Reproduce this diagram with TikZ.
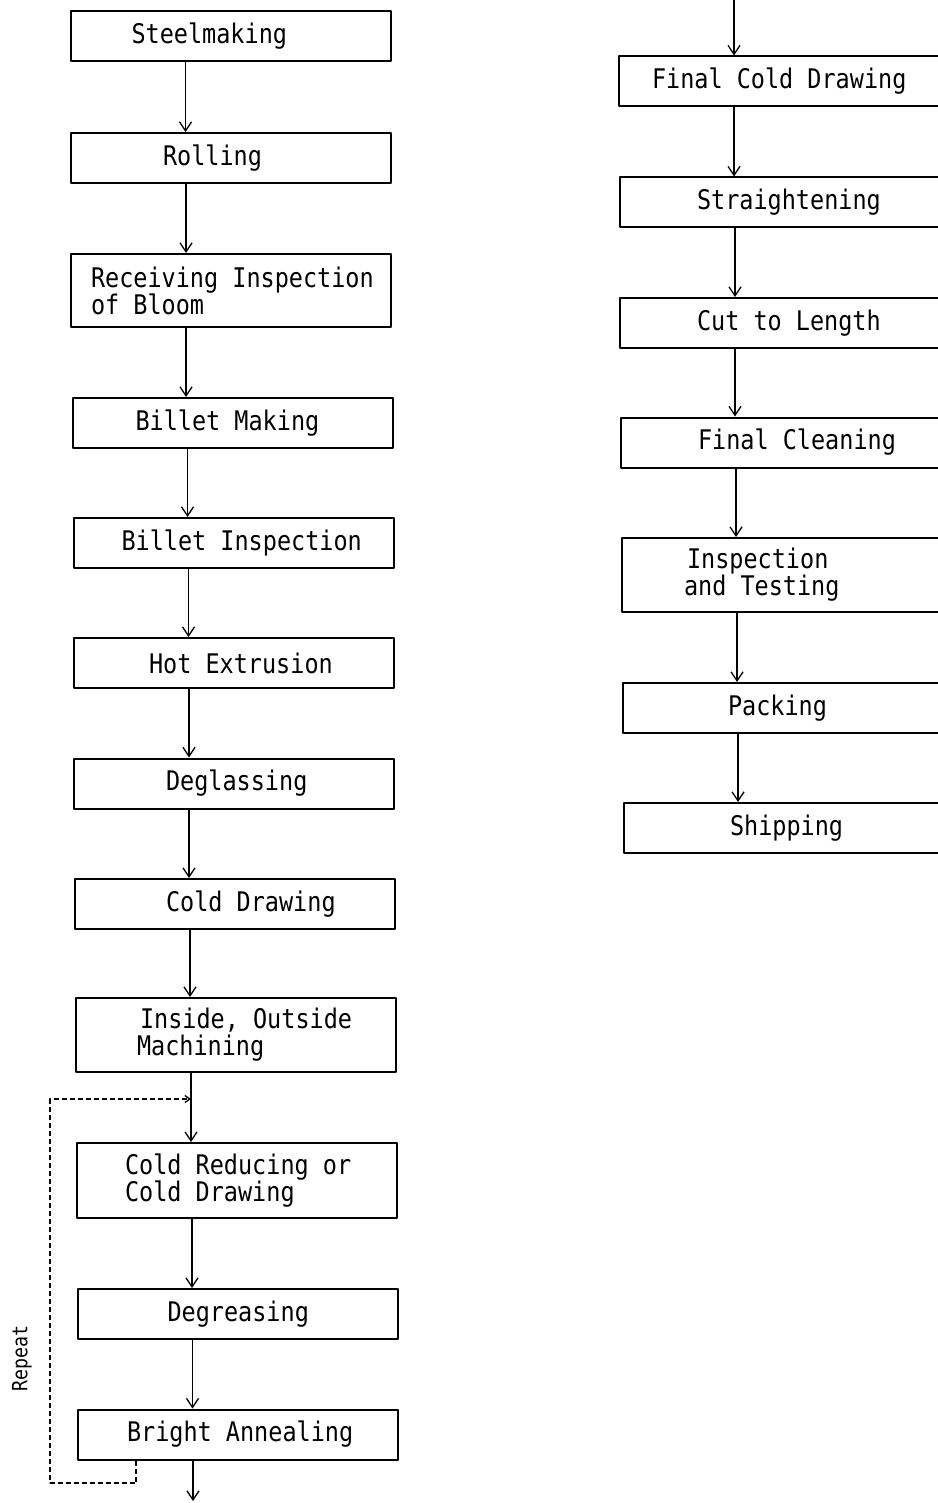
\documentclass[tikz,border=0pt]{standalone}
\usepackage{fontspec}
\newfontfamily\flowfont[FakeStretch=0.87]{DejaVu Sans Mono}
\usetikzlibrary{arrows.meta}
\begin{document}
\begin{tikzpicture}[x=1pt,y=-1pt,line join=round,
  stage/.style={draw,line width=2pt,minimum width=320pt,minimum height=50pt,inner xsep=0pt,
    text width=320pt,align=left,font=\flowfont\fontsize{27}{27}\selectfont,
    execute at begin node={\spaceskip=14.1pt\xspaceskip=14.1pt\relax}},
  flow/.style={line width=1.3pt,-{Straight Barb[length=9pt,width=12pt]}},
  again/.style={line width=1.3pt,dash pattern=on 5pt off 3pt,-{Straight Barb[length=5pt,width=7pt]}}]
\useasboundingbox (0,0) rectangle (937,1503);
% left column
\node[stage] (steel) at (230.5,36.5) {\hspace*{61pt}Steelmaking};
\node[stage] (roll) at (231,158) {\hspace*{92pt}Rolling};
\node[stage,minimum height=73pt] (recv) at (231,290.5) {\hspace*{20pt}Receiving Inspection\\\hspace*{20pt}of Bloom};
\node[stage] (bmake) at (232.5,423) {\hspace*{63pt}Billet Making};
\node[stage] (binsp) at (233.5,543) {\hspace*{48pt}Billet Inspection};
\node[stage] (hot) at (234,663) {\hspace*{75pt}Hot Extrusion};
\node[stage] (degl) at (234,783.5) {\hspace*{92pt}Deglassing};
\node[stage] (cold) at (235,904) {\hspace*{91pt}Cold Drawing};
\node[stage,minimum height=74pt] (mach) at (236,1035) {\hspace*{64pt}Inside, Outside\\\hspace*{61pt}Machining};
\node[stage,minimum height=75pt] (reduce) at (237,1180.5) {\hspace*{48pt}Cold Reducing or\\\hspace*{48pt}Cold Drawing};
\node[stage] (degr) at (237.5,1314) {\hspace*{90pt}Degreasing};
\node[stage] (bright) at (238,1434.5) {\hspace*{49pt}Bright Annealing};
% right column
\node[stage] (fcd) at (779,81.5) {\hspace*{33pt}Final Cold Drawing};
\node[stage] (str) at (780,202.5) {\hspace*{77pt}Straightening};
\node[stage] (cut) at (780,323) {\hspace*{77pt}Cut to Length};
\node[stage] (fclean) at (781,442.5) {\hspace*{77pt}Final Cleaning};
\node[stage,minimum height=74pt] (insp) at (782,575) {\hspace*{65pt}Inspection\\\hspace*{62pt}and Testing};
\node[stage] (pack) at (783,708) {\hspace*{105pt}Packing};
\node[stage] (ship) at (784,828) {\hspace*{106pt}Shipping};
% connectors
\foreach \a/\b in {steel/roll,roll/recv,recv/bmake,bmake/binsp,binsp/hot,hot/degl,degl/cold,cold/mach,
  mach/reduce,reduce/degr,degr/bright,fcd/str,str/cut,cut/fclean,fclean/insp,insp/pack,pack/ship}
  \draw[flow] ([xshift=-45pt]\a.south) -- ([xshift=-45pt]\a.south |- \b.north);
\coordinate (in) at (734,0);
\coordinate (out) at (193,1501);
\draw[flow] (in) -- (in |- fcd.north);
\draw[flow] ([xshift=-45pt]bright.south) -- (out);
% repeat loop
\draw[again] ([xshift=59pt]bright.south west) |- (50,1483) |- ([xshift=-45pt,yshift=-26pt]mach.south);
\node[rotate=90,font=\flowfont\fontsize{21}{21}\selectfont] (rep) at (22,1358) {Repeat};
\end{tikzpicture}
\end{document}
